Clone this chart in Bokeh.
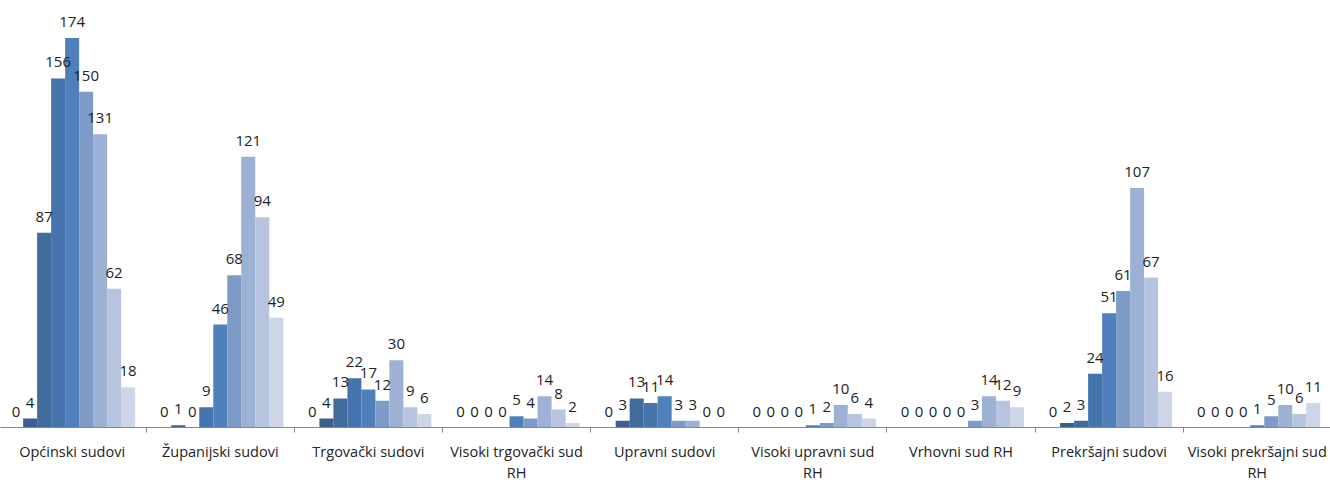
import numpy as np
from bokeh.plotting import figure
from bokeh.models import Range1d, FixedTicker, LinearAxis, ColumnDataSource
from bokeh.core.properties import value
from bokeh.embed import file_html
from bokeh.resources import INLINE

categories = ["Općinski sudovi", "Županijski sudovi", "Trgovački sudovi",
              "Visoki trgovački sud RH", "Upravni sudovi", "Visoki upravni sud RH",
              "Vrhovni sud RH", "Prekršajni sudovi", "Visoki prekršajni sud RH"]
tick_labels = ["Općinski sudovi", "Županijski sudovi", "Trgovački sudovi",
               "Visoki trgovački sud\nRH", "Upravni sudovi", "Visoki upravni sud\nRH",
               "Vrhovni sud RH", "Prekršajni sudovi", "Visoki prekršajni sud\nRH"]

series_1 = [0, 0, 0, 0, 0, 0, 0, 0, 0]
series_2 = [4, 1, 4, 0, 3, 0, 0, 2, 0]
series_3 = [87, 0, 13, 0, 13, 0, 0, 3, 0]
series_4 = [156, 9, 22, 0, 11, 0, 0, 24, 0]
series_5 = [174, 46, 17, 5, 14, 1, 0, 51, 1]
series_6 = [150, 68, 12, 4, 3, 2, 3, 61, 5]
series_7 = [131, 121, 30, 14, 3, 10, 14, 107, 10]
series_8 = [62, 94, 9, 8, 0, 6, 12, 67, 6]
series_9 = [18, 49, 6, 2, 0, 4, 9, 16, 11]

series = [series_1, series_2, series_3, series_4, series_5,
          series_6, series_7, series_8, series_9]
colors = ["#33557f", "#3c5f8e", "#416a9d", "#4573ab", "#4f80bc",
          "#7e9bc8", "#9db1d4", "#b7c4df", "#cdd5e7"]

n_cat = len(categories)
n_ser = len(series)
bar_w = 0.0945
centers = np.arange(n_cat) + 0.5

p = figure(frame_width=1330, frame_height=427,
           x_range=Range1d(0.0165, 8.9945), y_range=Range1d(0, 190.8),
           x_axis_type=None, y_axis_type=None,
           output_backend="svg", toolbar_location=None,
           min_border_left=0, min_border_right=0, min_border_top=0, min_border_bottom=0)
p.outline_line_color = None
p.xgrid.visible = False
p.ygrid.visible = False
p.background_fill_color = "white"
p.border_fill_color = "white"

sources = []
for j, vals in enumerate(series):
    xs = centers + (j - (n_ser - 1) / 2) * bar_w
    src = ColumnDataSource(dict(x=xs, top=vals, lbl=[str(v) for v in vals]))
    sources.append(src)
    p.vbar(x="x", top="top", bottom=0, width=bar_w, source=src,
           fill_color=colors[j], line_color=None)

font = value("Open Sans")
for src in sources:
    p.text(x="x", y="top", text="lbl", source=src, text_align="center",
           text_baseline="middle", y_offset=-16, text_font=font,
           text_font_size="15px", text_color="#222222")

ax = LinearAxis(ticker=FixedTicker(ticks=list(centers),
                                   minor_ticks=list(np.arange(1, n_cat))))
ax.major_label_overrides = {float(c): t for c, t in zip(centers, tick_labels)}
ax.major_tick_out = 0
ax.major_tick_in = 0
ax.minor_tick_out = 5
ax.minor_tick_in = 0
ax.minor_tick_line_color = "#868686"
ax.axis_line_color = "#868686"
ax.axis_line_width = 1
ax.major_label_standoff = 9
ax.major_label_text_font = "Open Sans"
ax.major_label_text_font_size = "14.5px"
ax.major_label_text_color = "#222222"
ax.major_label_text_line_height = 1.12
p.add_layout(ax, "below")

open("out.html", "w").write(file_html(p, INLINE))
